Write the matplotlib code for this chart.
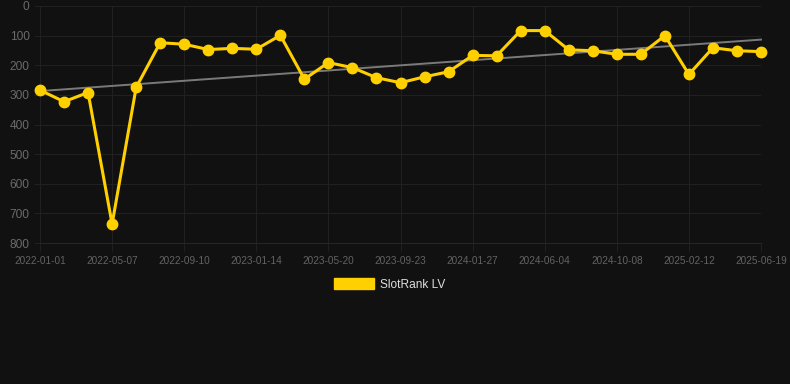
import matplotlib
matplotlib.use("Agg")
import matplotlib.pyplot as plt
from matplotlib.patches import Patch
import numpy as np

dates = ["2022-01-01", "2022-02-12", "2022-03-26", "2022-05-07", "2022-06-18", "2022-07-30",
         "2022-09-10", "2022-10-22", "2022-12-03", "2023-01-14", "2023-02-25", "2023-04-08",
         "2023-05-20", "2023-07-01", "2023-08-12", "2023-09-23", "2023-11-04", "2023-12-16",
         "2024-01-27", "2024-03-09", "2024-04-20", "2024-06-04", "2024-07-16", "2024-08-27",
         "2024-10-08", "2024-11-19", "2024-12-31", "2025-02-12", "2025-03-26", "2025-05-07",
         "2025-06-19"]
ranks = [284, 323, 292, 736, 275, 124, 129, 147, 143, 146, 99, 247, 191, 208, 242, 259,
         239, 222, 167, 168, 83, 83, 148, 151, 163, 163, 100, 231, 141, 151, 154]
series_label = "SlotRank LV"
y_ticks = [0, 100, 200, 300, 400, 500, 600, 700, 800]

plt.rcParams['font.family'] = ['Liberation Sans', 'DejaVu Sans']

BG = "#111111"
GRID = "#202020"
fig = plt.figure(figsize=(7.9, 3.84), dpi=100, facecolor=BG)
W, H = 790, 384
ax = fig.add_axes([40 / W, 1 - 243 / H, (761 - 40) / W, (243 - 6) / H], facecolor=BG)

x = np.arange(len(dates))
coef = np.polyfit(x, ranks, 1)
ax.plot(x, np.polyval(coef, x), color="#7a7a7a", lw=1.4, zorder=2, clip_on=False)
ax.plot(x, ranks, color="#FFD000", lw=2.2, marker="o", markersize=7.5,
        zorder=3, clip_on=False)

ax.set_xlim(0, len(dates) - 1)
ax.set_ylim(800, 0)
ax.set_yticks(y_ticks)
ax.set_yticklabels([str(v) for v in y_ticks])
xt = x[::3]
ax.set_xticks(xt)
ax.set_xticklabels([dates[i] for i in xt])

ax.grid(True, color=GRID, lw=0.75)
ax.set_axisbelow(True)
for s in ax.spines.values():
    s.set_visible(False)
ax.spines['bottom'].set_visible(True)
ax.spines['bottom'].set_color("#262626")
ax.spines['bottom'].set_linewidth(0.75)
ax.tick_params(axis='y', colors=GRID, labelcolor="#6a6a6a", labelsize=8.6, length=4, width=0.75, pad=3.5)
ax.tick_params(axis='x', colors=GRID, labelcolor="#636363", labelsize=7.2, length=6, width=0.75, pad=3)

handle = Patch(facecolor="#FFD000", edgecolor="#FFD000")
leg = fig.legend([handle], [series_label], loc="center",
                 bbox_to_anchor=(389.5 / W, 1 - 284.5 / H), frameon=False,
                 fontsize=8.6, handlelength=3.33, handleheight=1.0, handletextpad=0.5)
for t in leg.get_texts():
    t.set_color("#dddddd")

fig.savefig("out.png", dpi=100, facecolor=BG)
